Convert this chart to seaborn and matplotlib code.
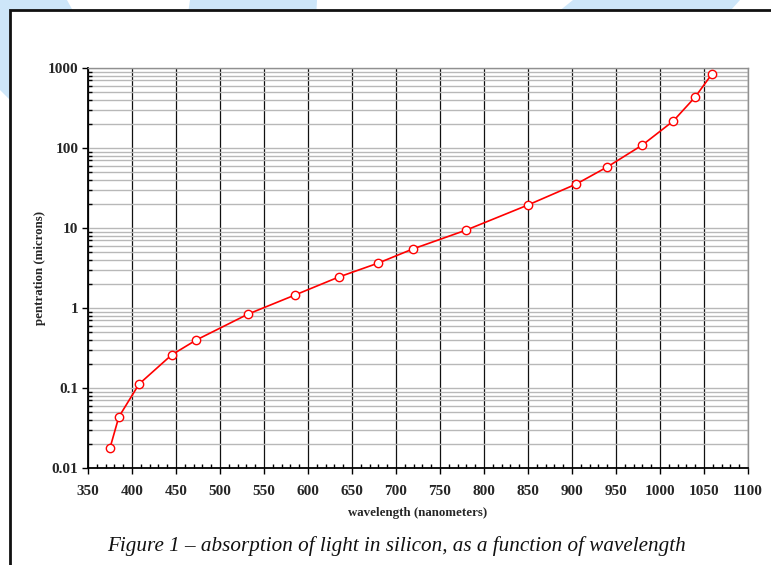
import numpy as np
import pandas as pd
import matplotlib
matplotlib.use('Agg')
import matplotlib.pyplot as plt
from matplotlib.patches import Polygon, Rectangle
from matplotlib.ticker import LogLocator, FixedLocator, NullFormatter
import seaborn as sns

# values
wavelength = [375, 385, 408, 445, 473, 532, 585, 635, 680, 719, 780, 850, 905, 940, 980, 1015, 1040, 1059]
penetration = [0.0178, 0.0434, 0.112, 0.259, 0.398, 0.84, 1.45, 2.44, 3.65, 5.46, 9.44, 19.4, 35.5,
               57.9, 109, 217, 434, 841]
x_ticks = list(range(350, 1101, 50))
y_ticks = [0.01, 0.1, 1, 10, 100, 1000]
y_tick_labels = ['0.01', '0.1', '1', '10', '100', '1000']

df = pd.DataFrame({'wavelength': wavelength, 'penetration': penetration})

sns.set_style('white')
plt.rcParams['font.family'] = ['Liberation Serif', 'DejaVu Serif']

W, H = 771, 565
fig = plt.figure(figsize=(W / 100, H / 100), dpi=100)


def px(x, y):
    return (x / W, 1 - y / H)


# light blue decoration behind the framed box
blue = '#cde6f9'
for pts in [[(0, 0), (67, 0), (78, 20), (78, 100), (10, 100), (0, 90)],
            [(190, 0), (317, 0), (316, 20), (187, 20)],
            [(573, 0), (740, 0), (722, 20), (548, 20)]]:
    fig.patches.append(Polygon([px(*p) for p in pts], closed=True, transform=fig.transFigure,
                               facecolor=blue, edgecolor='none', zorder=-3))
fig.patches.append(Rectangle(px(10, 600), 800 / W, 590 / H, transform=fig.transFigure,
                             facecolor='white', edgecolor='#111111', linewidth=2, zorder=-2))
fig.patch.set_facecolor('white')

ax = fig.add_axes([88 / W, (H - 468) / H, 660 / W, 400 / H])
ax.patch.set_alpha(0)

sns.lineplot(data=df, x='wavelength', y='penetration', ax=ax, color='red', linewidth=1.2,
             marker='o', markersize=6, markerfacecolor='white', markeredgecolor='red',
             markeredgewidth=1.0, sort=False, estimator=None, zorder=5)

ax.set_yscale('log')
ax.set_xlim(350, 1100)
ax.set_ylim(0.01, 1000)

ax.xaxis.set_major_locator(FixedLocator(x_ticks))
ax.xaxis.set_minor_locator(FixedLocator(list(range(350, 1101, 10))))
ax.yaxis.set_major_locator(FixedLocator(y_ticks))
ax.yaxis.set_minor_locator(LogLocator(base=10, subs=np.arange(2, 10), numticks=20))
ax.yaxis.set_minor_formatter(NullFormatter())
ax.set_yticklabels(y_tick_labels)

ax.grid(True, which='major', axis='x', color='#111111', linewidth=0.9)
ax.grid(True, which='both', axis='y', color='#b8b8b8', linewidth=1.0)
ax.set_axisbelow(True)

ax.tick_params(which='major', direction='out', length=4, width=1, color='black',
               left=True, bottom=True, labelsize=11)
ax.tick_params(axis='x', which='major', pad=8)
ax.tick_params(axis='y', which='major', pad=3)
ax.tick_params(which='minor', direction='in', length=3, width=1, color='black',
               left=True, bottom=True)
for lab in ax.get_xticklabels() + ax.get_yticklabels():
    lab.set_fontweight('bold')

for side in ['left', 'bottom']:
    ax.spines[side].set_color('black')
    ax.spines[side].set_linewidth(1.3)
for side in ['top', 'right']:
    ax.spines[side].set_color('#909090')
    ax.spines[side].set_linewidth(1.0)

ax.set_xlabel('wavelength (nanometers)', fontsize=9.3, fontweight='bold', labelpad=7)
ax.set_ylabel('pentration (microns)', fontsize=9.3, fontweight='bold', labelpad=1)

fig.text(396 / W, 1 - 546 / H, 'Figure 1 \u2013 absorption of light in silicon, as a function of wavelength',
         ha='center', va='center', fontsize=15.2, style='italic', color='#111111')

fig.savefig('out.png', dpi=100)
